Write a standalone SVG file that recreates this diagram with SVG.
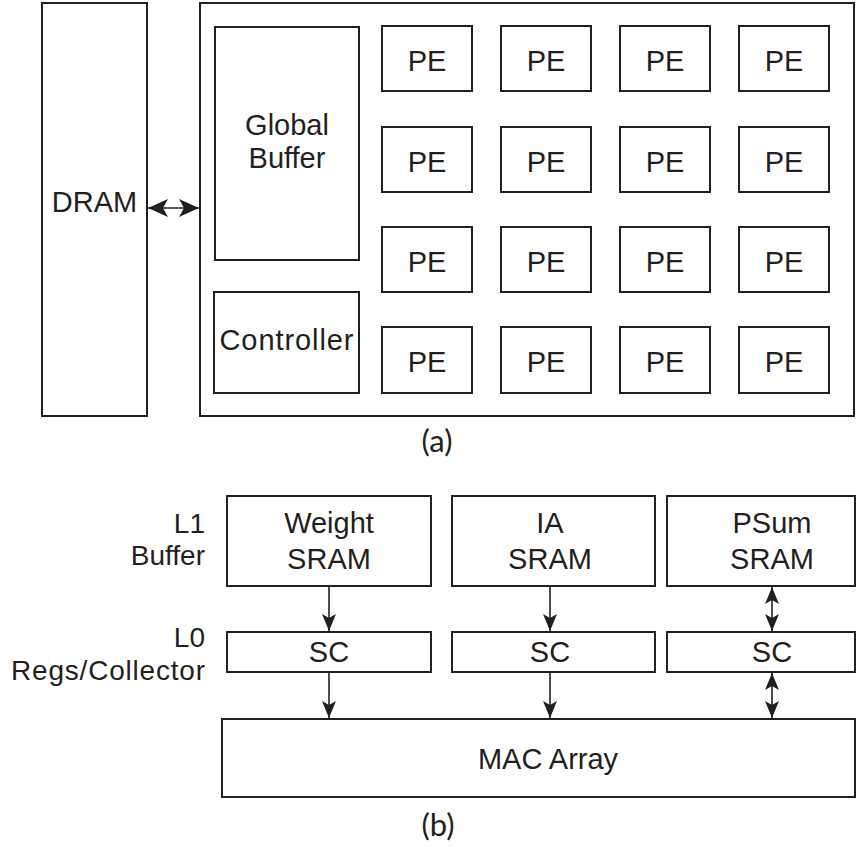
<svg xmlns="http://www.w3.org/2000/svg" width="867" height="847" viewBox="0 0 867 847">
  <style>
    .box { fill: #ffffff; stroke: #231f20; stroke-width: 2; }
    .lbl { font-family: "Liberation Sans", Arial, sans-serif; font-size: 29px; fill: #231f20; text-anchor: middle; }
    .side { font-family: "Liberation Sans", Arial, sans-serif; font-size: 28px; fill: #231f20; text-anchor: end; }
    .cap { font-family: "Lato", "Open Sans", sans-serif; font-size: 31px; fill: #231f20; text-anchor: middle; }
    .wire { stroke: #231f20; stroke-width: 1.6; fill: none; }
  </style>
  <defs>
    <marker id="head" viewBox="0 0 17 14" refX="17" refY="7" markerWidth="17" markerHeight="14" markerUnits="userSpaceOnUse" orient="auto-start-reverse">
      <path d="M0,0 L17,7 L0,14 L4,7 Z" fill="#231f20"/>
    </marker>
    <marker id="headW" viewBox="0 0 20 18" refX="20" refY="9" markerWidth="20" markerHeight="18" markerUnits="userSpaceOnUse" orient="auto-start-reverse">
      <path d="M0,0 L20,9 L0,18 L5,9 Z" fill="#231f20"/>
    </marker>
  </defs>
  <rect width="867" height="847" fill="#ffffff"/>

  <!-- (a) chip level -->
  <g id="dram">
    <rect class="box" x="42" y="3" width="105" height="413"/>
    <text class="lbl" x="94.5" y="212">DRAM</text>
  </g>
  <g id="chip">
    <rect class="box" x="200" y="3" width="654" height="413"/>
  </g>
  <g id="global-buffer">
    <rect class="box" x="215" y="27" width="144" height="233"/>
    <text class="lbl" x="287" y="135">Global</text>
    <text class="lbl" x="287" y="168">Buffer</text>
  </g>
  <g id="controller">
    <rect class="box" x="214" y="292" width="145" height="101"/>
    <text class="lbl" x="286.5" y="350" textLength="134" lengthAdjust="spacing">Controller</text>
  </g>

  <g id="pe-array">
    <g id="pe-0-0"><rect class="box" x="382" y="26" width="90" height="65"/><text class="lbl" x="427" y="71">PE</text></g>
    <g id="pe-0-1"><rect class="box" x="501" y="26" width="90" height="65"/><text class="lbl" x="546" y="71">PE</text></g>
    <g id="pe-0-2"><rect class="box" x="620" y="26" width="90" height="65"/><text class="lbl" x="665" y="71">PE</text></g>
    <g id="pe-0-3"><rect class="box" x="739" y="26" width="90" height="65"/><text class="lbl" x="784" y="71">PE</text></g>

    <g id="pe-1-0"><rect class="box" x="382" y="127" width="90" height="65"/><text class="lbl" x="427" y="172">PE</text></g>
    <g id="pe-1-1"><rect class="box" x="501" y="127" width="90" height="65"/><text class="lbl" x="546" y="172">PE</text></g>
    <g id="pe-1-2"><rect class="box" x="620" y="127" width="90" height="65"/><text class="lbl" x="665" y="172">PE</text></g>
    <g id="pe-1-3"><rect class="box" x="739" y="127" width="90" height="65"/><text class="lbl" x="784" y="172">PE</text></g>

    <g id="pe-2-0"><rect class="box" x="382" y="227" width="90" height="65"/><text class="lbl" x="427" y="272">PE</text></g>
    <g id="pe-2-1"><rect class="box" x="501" y="227" width="90" height="65"/><text class="lbl" x="546" y="272">PE</text></g>
    <g id="pe-2-2"><rect class="box" x="620" y="227" width="90" height="65"/><text class="lbl" x="665" y="272">PE</text></g>
    <g id="pe-2-3"><rect class="box" x="739" y="227" width="90" height="65"/><text class="lbl" x="784" y="272">PE</text></g>

    <g id="pe-3-0"><rect class="box" x="382" y="327" width="90" height="66"/><text class="lbl" x="427" y="372">PE</text></g>
    <g id="pe-3-1"><rect class="box" x="501" y="327" width="90" height="66"/><text class="lbl" x="546" y="372">PE</text></g>
    <g id="pe-3-2"><rect class="box" x="620" y="327" width="90" height="66"/><text class="lbl" x="665" y="372">PE</text></g>
    <g id="pe-3-3"><rect class="box" x="739" y="327" width="90" height="66"/><text class="lbl" x="784" y="372">PE</text></g>
  </g>

  <text class="cap" x="437" y="452">(a)</text>

  <!-- (b) PE level -->
  <g id="level-labels">
    <text class="side" x="205" y="533">L1</text>
    <text class="side" x="205" y="565">Buffer</text>
    <text class="side" x="205" y="647">L0</text>
    <text class="side" x="205" y="680" textLength="194" lengthAdjust="spacing">Regs/Collector</text>
  </g>

  <g id="weight-sram">
    <rect class="box" x="227" y="496" width="204" height="90"/>
    <text class="lbl" x="329" y="533">Weight</text>
    <text class="lbl" x="329" y="569">SRAM</text>
  </g>
  <g id="ia-sram">
    <rect class="box" x="452" y="496" width="203" height="90"/>
    <text class="lbl" x="550" y="533">IA</text>
    <text class="lbl" x="550" y="569">SRAM</text>
  </g>
  <g id="psum-sram">
    <rect class="box" x="667" y="496" width="188" height="90"/>
    <text class="lbl" x="772" y="533">PSum</text>
    <text class="lbl" x="772" y="569">SRAM</text>
  </g>

  <g id="sc-weight">
    <rect class="box" x="227" y="632" width="204" height="40"/>
    <text class="lbl" x="329" y="662">SC</text>
  </g>
  <g id="sc-ia">
    <rect class="box" x="452" y="632" width="203" height="40"/>
    <text class="lbl" x="550" y="662">SC</text>
  </g>
  <g id="sc-psum">
    <rect class="box" x="667" y="632" width="188" height="40"/>
    <text class="lbl" x="772" y="662">SC</text>
  </g>

  <g id="mac-array">
    <rect class="box" x="222" y="719" width="633" height="78"/>
    <text class="lbl" x="548" y="769">MAC Array</text>
  </g>

  <text class="cap" x="438" y="836">(b)</text>

  <g id="connectors">
    <line class="wire" x1="148" y1="208" x2="199" y2="208" marker-start="url(#headW)" marker-end="url(#headW)"/>
    <line class="wire" x1="329" y1="587" x2="329" y2="631" marker-end="url(#head)"/>
    <line class="wire" x1="329" y1="673" x2="329" y2="718" marker-end="url(#head)"/>
    <line class="wire" x1="550" y1="587" x2="550" y2="631" marker-end="url(#head)"/>
    <line class="wire" x1="550" y1="673" x2="550" y2="718" marker-end="url(#head)"/>
    <line class="wire" x1="772" y1="587" x2="772" y2="631" marker-start="url(#head)" marker-end="url(#head)"/>
    <line class="wire" x1="772" y1="673" x2="772" y2="718" marker-start="url(#head)" marker-end="url(#head)"/>
  </g>
</svg>
